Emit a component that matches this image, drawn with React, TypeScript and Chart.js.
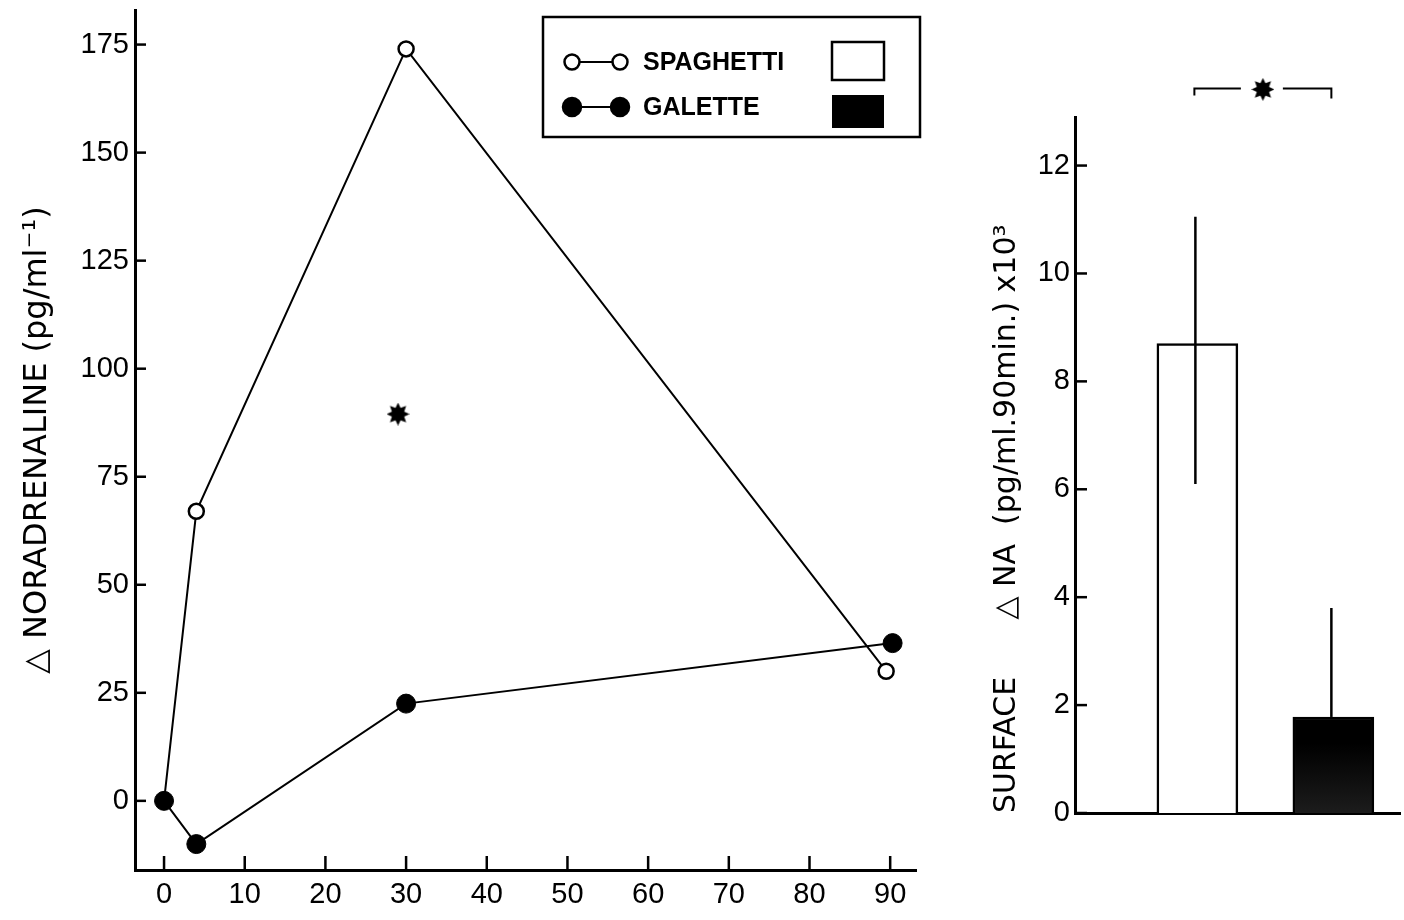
import React, { useEffect, useRef } from 'react';
import { Chart, registerables } from 'chart.js';

Chart.register(...registerables);

// ---------- data: left panel (time course) ----------
const seriesNames = ['SPAGHETTI', 'GALETTE'];
const spaghettiTime = [0, 4, 30, 89.5];
const spaghettiNA = [0, 67, 174, 30];
const galetteTime = [0, 4, 30, 90.3];
const galetteNA = [0, -10, 22.5, 36.5];
const starTime = [29];
const starNA = [89.5];
const timeTicks = [0, 10, 20, 30, 40, 50, 60, 70, 80, 90];
const naTicks = [0, 25, 50, 75, 100, 125, 150, 175];

// ---------- data: right panel (area under curve) ----------
const surfaceCategories = ['SPAGHETTI', 'GALETTE'];
const surfaceMean = [8.7, 1.78];
const surfaceErrHigh = [11.05, 3.8];
const surfaceErrLow = [6.1, 1.78];
const surfaceTicks = [0, 2, 4, 6, 8, 10, 12];
const bracketLevel = 13.43;

const TICK_FONT = { family: 'Liberation Sans', size: 29 };

function makeStar(size: number): HTMLCanvasElement {
  const c = document.createElement('canvas');
  c.width = size;
  c.height = size;
  const ctx = c.getContext('2d')!;
  const cx = size / 2;
  const R = size / 2;
  const r = R * 0.58;
  ctx.beginPath();
  for (let i = 0; i < 16; i++) {
    const a = -Math.PI / 2 + (i * Math.PI) / 8;
    const rad = i % 2 === 0 ? R : r;
    ctx.lineTo(cx + rad * Math.cos(a), cx + rad * Math.sin(a));
  }
  ctx.closePath();
  ctx.fillStyle = '#000';
  ctx.fill();
  return c;
}

const inwardTicks = {
  id: 'inwardTicks',
  afterDraw(chart: any, _args: any, opts: any) {
    const { ctx, chartArea } = chart;
    ctx.save();
    ctx.strokeStyle = '#000';
    ctx.lineWidth = 2.5;
    if (opts.y) {
      const ys = chart.scales.y;
      for (const t of ys.ticks) {
        const py = ys.getPixelForValue(t.value);
        ctx.beginPath();
        ctx.moveTo(chartArea.left, py);
        ctx.lineTo(chartArea.left + opts.y, py);
        ctx.stroke();
      }
    }
    if (opts.x) {
      const xs = chart.scales.x;
      for (const t of xs.ticks) {
        const px = xs.getPixelForValue(t.value);
        ctx.beginPath();
        ctx.moveTo(px, chartArea.bottom);
        ctx.lineTo(px, chartArea.bottom - opts.x);
        ctx.stroke();
      }
    }
    ctx.restore();
  },
};

const boxLegend = {
  id: 'boxLegend',
  afterDraw(chart: any) {
    const ctx = chart.ctx;
    const L = 543, T = 17, R = 920, B = 137;
    ctx.save();
    ctx.strokeStyle = '#000';
    ctx.lineWidth = 2.5;
    ctx.strokeRect(L, T, R - L, B - T);
    const rows = [62, 107];
    seriesNames.forEach((name, i) => {
      const y = rows[i];
      const filled = i === 1;
      ctx.lineWidth = 2;
      ctx.beginPath();
      ctx.moveTo(572, y);
      ctx.lineTo(620, y);
      ctx.stroke();
      [572, 620].forEach((cx) => {
        ctx.beginPath();
        ctx.arc(cx, y, filled ? 9 : 7.5, 0, Math.PI * 2);
        ctx.fillStyle = filled ? '#000' : '#fff';
        ctx.fill();
        ctx.lineWidth = 2.5;
        ctx.stroke();
      });
      ctx.fillStyle = '#000';
      ctx.font = 'bold 25px "Liberation Sans"';
      ctx.textBaseline = 'middle';
      ctx.textAlign = 'left';
      ctx.fillText(name, 643, y + 1);
      if (filled) {
        ctx.fillRect(832, 95, 52, 33);
      } else {
        ctx.lineWidth = 2.5;
        ctx.strokeRect(832, 42, 52, 38);
      }
    });
    ctx.restore();
  },
};

export default function App() {
  const leftRef = useRef<HTMLCanvasElement>(null);
  const rightRef = useRef<HTMLCanvasElement>(null);

  useEffect(() => {
    const star = makeStar(23);
    const left = new Chart(leftRef.current!, {
      type: 'line',
      data: {
        datasets: [
          {
            label: seriesNames[0],
            data: spaghettiTime.map((x, i) => ({ x, y: spaghettiNA[i] })),
            borderColor: '#000',
            borderWidth: 2,
            pointRadius: 7.5,
            pointBackgroundColor: '#fff',
            pointBorderColor: '#000',
            pointBorderWidth: 2.5,
            tension: 0,
            order: 2,
          },
          {
            label: seriesNames[1],
            data: galetteTime.map((x, i) => ({ x, y: galetteNA[i] })),
            borderColor: '#000',
            borderWidth: 2,
            pointRadius: 9.5,
            pointBackgroundColor: '#000',
            pointBorderColor: '#000',
            pointBorderWidth: 1,
            tension: 0,
            order: 1,
          },
          {
            label: 'significance',
            data: starTime.map((x, i) => ({ x, y: starNA[i] })),
            showLine: false,
            pointStyle: star as any,
            order: 0,
          },
        ],
      } as any,
      options: {
        responsive: false,
        animation: false,
        layout: { autoPadding: false, padding: { top: 10, right: 34, left: 0, bottom: 0 } },
        plugins: {
          legend: { display: false },
          tooltip: { enabled: false },
          inwardTicks: { x: 14, y: 11 },
        } as any,
        scales: {
          x: {
            type: 'linear',
            min: -3.6,
            max: 93.2,
            afterBuildTicks: (s: any) => {
              s.ticks = timeTicks.map((v) => ({ value: v }));
            },
            afterFit: (s: any) => {
              s.height = 50;
              s.paddingLeft = 0;
              s.paddingRight = 0;
            },
            grid: { display: false, drawTicks: false },
            border: { display: true, color: '#000', width: 3 },
            ticks: { color: '#000', font: TICK_FONT, padding: 8, maxRotation: 0, autoSkip: false },
          },
          y: {
            type: 'linear',
            min: -16,
            max: 183,
            afterBuildTicks: (s: any) => {
              s.ticks = naTicks.map((v) => ({ value: v }));
            },
            afterFit: (s: any) => {
              s.width = 135;
              s.paddingTop = 0;
              s.paddingBottom = 0;
            },
            grid: { display: false, drawTicks: false },
            border: { display: true, color: '#000', width: 3 },
            ticks: { color: '#000', font: TICK_FONT, padding: 6 },
            title: {
              display: true,
              text: '△ NORADRENALINE (pg/ml⁻¹)',
              color: '#000',
              font: { family: 'DejaVu Sans', size: 32 },
              padding: { top: 18, bottom: 0 },
            },
          },
        },
      } as any,
      plugins: [inwardTicks, boxLegend],
    });

    const errorBars = {
      id: 'errorBars',
      afterDatasetsDraw(chart: any) {
        const { ctx } = chart;
        const meta = chart.getDatasetMeta(0);
        const ys = chart.scales.y;
        ctx.save();
        ctx.strokeStyle = '#000';
        ctx.lineWidth = 2.5;
        meta.data.forEach((bar: any, i: number) => {
          ctx.beginPath();
          ctx.moveTo(bar.x - 2, ys.getPixelForValue(surfaceErrHigh[i]));
          ctx.lineTo(bar.x - 2, ys.getPixelForValue(surfaceErrLow[i]));
          ctx.stroke();
        });
        const x1 = meta.data[0].x - 3;
        const x2 = meta.data[1].x - 2;
        const yb = ys.getPixelForValue(bracketLevel);
        const mid = (x1 + x2) / 2;
        ctx.lineWidth = 2;
        ctx.beginPath();
        ctx.moveTo(x1, yb + 7);
        ctx.lineTo(x1, yb);
        ctx.lineTo(mid - 22, yb);
        ctx.moveTo(mid + 20, yb);
        ctx.lineTo(x2, yb);
        ctx.lineTo(x2, yb + 10);
        ctx.stroke();
        ctx.drawImage(star, mid - star.width / 2, yb - star.height / 2 + 1);
        ctx.restore();
      },
    };

    const galetteFill = (context: any) => {
      if (context.dataIndex === 0) return '#fff';
      const area = context.chart.chartArea;
      if (!area) return '#000';
      const g = context.chart.ctx.createLinearGradient(0, area.top, 0, area.bottom);
      g.addColorStop(0, '#000');
      g.addColorStop(0.9, '#000');
      g.addColorStop(1, '#1c1c1c');
      return g;
    };

    const right = new Chart(rightRef.current!, {
      type: 'bar',
      data: {
        datasets: [
          {
            label: 'SURFACE',
            data: surfaceCategories.map((c, i) => ({ x: i + 0.9, y: surfaceMean[i] })),
            backgroundColor: galetteFill,
            borderColor: '#000',
            borderWidth: 2.5,
            barThickness: 81,
          },
        ],
      } as any,
      options: {
        responsive: false,
        animation: false,
        layout: { autoPadding: false, padding: { top: 117, right: 4, left: 0, bottom: 0 } },
        plugins: {
          legend: { display: false },
          tooltip: { enabled: false },
          inwardTicks: { y: 12 },
        } as any,
        scales: {
          x: {
            type: 'linear',
            min: 0,
            max: 2.39,
            offset: false,
            afterFit: (s: any) => {
              s.height = 107;
            },
            grid: { display: false, drawTicks: false },
            border: { display: true, color: '#000', width: 3 },
            ticks: { display: false },
          },
          y: {
            type: 'linear',
            min: 0,
            max: 12.9,
            afterBuildTicks: (s: any) => {
              s.ticks = surfaceTicks.map((v) => ({ value: v }));
            },
            afterFit: (s: any) => {
              s.width = 125;
              s.paddingTop = 0;
              s.paddingBottom = 0;
            },
            grid: { display: false, drawTicks: false },
            border: { display: true, color: '#000', width: 3 },
            ticks: { color: '#000', font: TICK_FONT, padding: 5 },
            title: {
              display: true,
              align: 'start',
              text: 'SURFACE      △ NA  (pg/ml.90min.) x10³',
              color: '#000',
              font: { family: 'DejaVu Sans', size: 30 },
              padding: { top: 39, bottom: 0 },
            },
          },
        },
      } as any,
      plugins: [inwardTicks, errorBars],
    });

    return () => {
      left.destroy();
      right.destroy();
    };
  }, []);

  return (
    <div style={{ position: 'absolute', left: 0, top: 0, width: 1404, height: 920, background: '#fff' }}>
      <canvas ref={leftRef} width={950} height={920} style={{ position: 'absolute', left: 0, top: 0 }} />
      <canvas ref={rightRef} width={454} height={920} style={{ position: 'absolute', left: 950, top: 0 }} />
    </div>
  );
}
